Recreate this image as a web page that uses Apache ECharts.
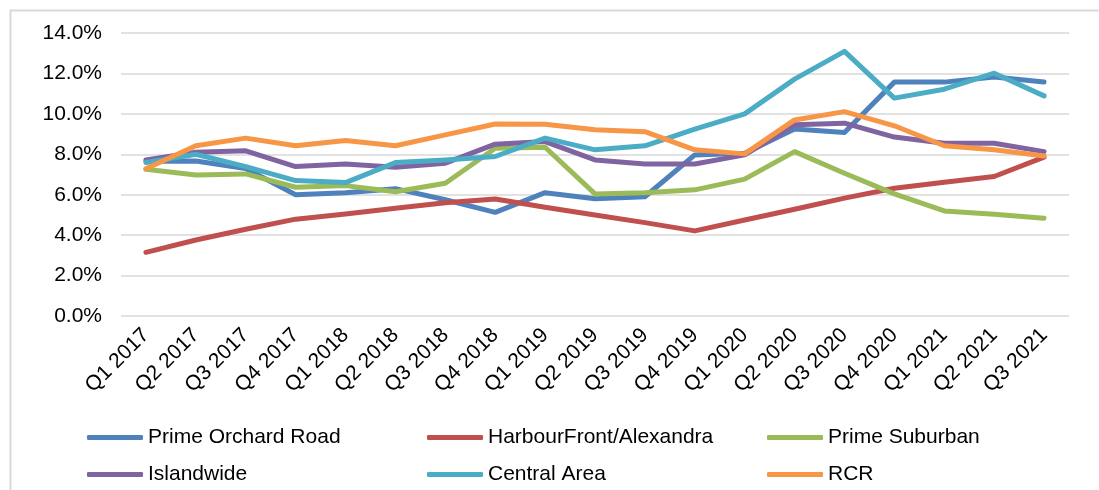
<!DOCTYPE html>
<html>
<head>
<meta charset="utf-8">
<script src="https://cdn.jsdelivr.net/npm/echarts@6/dist/echarts.min.js"></script>
<style>
html,body{margin:0;padding:0;background:#fff;}
#main{width:1099px;height:490px;}
</style>
</head>
<body>
<div id="main"></div>
<script>
var quarters=['Q1 2017','Q2 2017','Q3 2017','Q4 2017','Q1 2018','Q2 2018','Q3 2018','Q4 2018','Q1 2019','Q2 2019','Q3 2019','Q4 2019','Q1 2020','Q2 2020','Q3 2020','Q4 2020','Q1 2021','Q2 2021','Q3 2021'];
var primeOrchard=[7.65,7.67,7.3,6.0,6.1,6.3,5.75,5.13,6.1,5.8,5.9,7.97,8.05,9.25,9.08,11.57,11.57,11.82,11.58];
var harbourFront=[3.15,3.76,4.29,4.79,5.05,5.33,5.6,5.79,5.38,5.0,4.62,4.21,4.75,5.28,5.83,6.32,6.62,6.9,7.86];
var primeSuburban=[7.26,6.98,7.03,6.37,6.45,6.15,6.57,8.3,8.35,6.04,6.1,6.24,6.77,8.13,7.06,6.04,5.2,5.03,4.84];
var islandwide=[7.72,8.1,8.17,7.39,7.52,7.36,7.56,8.5,8.63,7.72,7.52,7.52,7.97,9.46,9.54,8.85,8.55,8.55,8.13];
var centralArea=[7.59,8.0,7.39,6.7,6.6,7.59,7.72,7.89,8.8,8.22,8.42,9.24,10.0,11.72,13.09,10.78,11.22,12.01,10.89];
var rcr=[7.28,8.42,8.8,8.42,8.68,8.42,8.96,9.5,9.49,9.21,9.12,8.22,8.02,9.7,10.11,9.41,8.42,8.22,7.92];

var names=['Prime Orchard Road','HarbourFront/Alexandra','Prime Suburban','Islandwide','Central Area','RCR'];
var colors=['#4F81BD','#C0504D','#9BBB59','#8064A2','#4BACC6','#F79646'];
var allData=[primeOrchard,harbourFront,primeSuburban,islandwide,centralArea,rcr];

var myChart=echarts.init(document.getElementById('main'));
var series=[];
for(var i=0;i<names.length;i++){
    series.push({
        name:names[i],
        type:'line',
        data:allData[i],
        symbol:'none',
        color:colors[i],
        lineStyle:{width:5,color:colors[i],cap:'round',join:'round'}
    });
}
// one legend per item so the columns line up
var legendPos=[[87,427],[427,427],[767,427],[87,464],[427,464],[767,464]];
var legends=[];
for(var j=0;j<names.length;j++){
    legends.push({
        data:[names[j]],
        left:legendPos[j][0],
        top:legendPos[j][1],
        itemWidth:56,
        itemHeight:5,
        itemGap:0,
        icon:'roundRect',
        padding:0,
        textStyle:{fontFamily:'Liberation Sans, Arial',fontSize:21,color:'#000'}
    });
}
var option={
    animation:false,
    color:colors,
    graphic:[{
        type:'rect',
        left:8,top:8,
        shape:{width:1200,height:600},
        style:{fill:'none',stroke:'#d9d9d9',lineWidth:2}
    }],
    legend:legends,
    grid:{left:121,right:30,top:33,bottom:174,containLabel:false},
    xAxis:{
        type:'category',
        data:quarters,
        boundaryGap:true,
        axisLine:{show:false},
        axisTick:{show:false},
        axisLabel:{
            interval:0,
            rotate:45,
            margin:16,
            color:'#000',
            fontFamily:'Liberation Sans, Arial',
            fontSize:21
        }
    },
    yAxis:{
        type:'value',
        min:0,
        max:14,
        interval:2,
        axisLine:{show:false},
        axisTick:{show:false},
        splitLine:{lineStyle:{color:'#d9d9d9',width:1.5}},
        axisLabel:{
            margin:19,
            color:'#000',
            fontFamily:'Liberation Sans, Arial',
            fontSize:21,
            formatter:function(v){return v.toFixed(1)+'%';}
        }
    },
    series:series
};
myChart.setOption(option);
</script>
</body>
</html>
